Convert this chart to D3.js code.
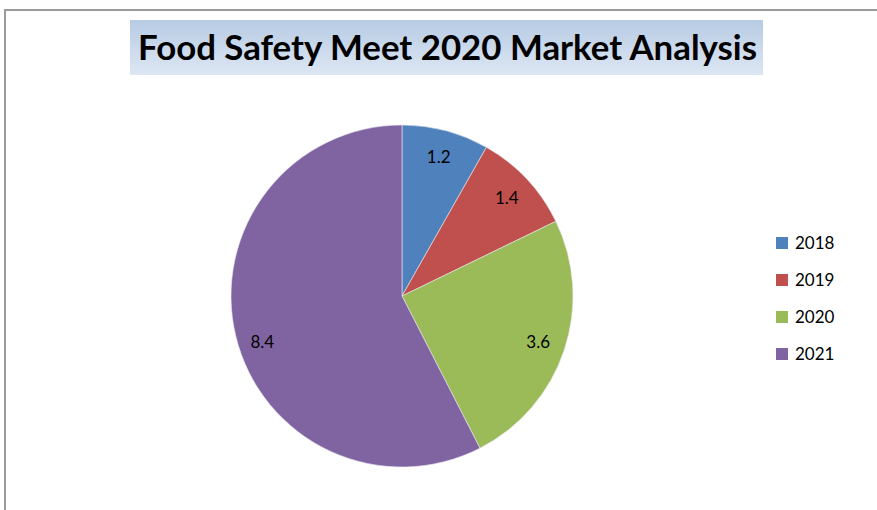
<!DOCTYPE html>
<html>
<head>
<meta charset="utf-8">
<script src="https://cdn.jsdelivr.net/npm/d3@7"></script>
<style>
body{margin:0;background:#fff;}
text{font-family:Lato,"Open Sans",sans-serif;}
</style>
</head>
<body>
<svg class="chart" width="877" height="510"></svg>
<script>
var years = ["2018","2019","2020","2021"];
var values = [1.2, 1.4, 3.6, 8.4];
var colors = ["#4f81bd","#c0504d","#9bbb59","#8064a2"];
var title = "Food Safety Meet 2020 Market Analysis";

var svg = d3.select(".chart");

// frame (left and top only, right is off page)
svg.append("path")
	.attr("d","M5,510 L5,10 L877,10")
	.attr("fill","none")
	.attr("stroke","#9a9a9a")
	.attr("stroke-width",2);

// title box with soft gradient
var grad = svg.append("defs").append("linearGradient")
	.attr("id","tg").attr("x1",0).attr("y1",0).attr("x2",0).attr("y2",1);
grad.append("stop").attr("offset","0%").attr("stop-color","#b7cbe4");
grad.append("stop").attr("offset","100%").attr("stop-color","#dde7f3");

svg.append("rect")
	.attr("x",130).attr("y",20)
	.attr("width",633).attr("height",55)
	.attr("fill","url(#tg)");

svg.append("text")
	.attr("x",138).attr("y",60)
	.attr("font-weight","bold")
	.attr("font-size",34)
	.attr("textLength",619)
	.attr("lengthAdjust","spacingAndGlyphs")
	.attr("fill","#000")
	.text(title);

var cx = 402, cy = 296, R = 171;

var pie = d3.pie().sort(null).value(function(d){return d;});
var arc = d3.arc().innerRadius(0).outerRadius(R);
var labelArc = d3.arc().innerRadius(R*0.84).outerRadius(R*0.84);

var g = svg.append("g").attr("transform","translate("+cx+","+cy+")");

var slices = pie(values);

g.selectAll(".slice")
	.data(slices)
	.enter()
	.append("path")
	.attr("class","slice")
	.attr("d",arc)
	.attr("fill",function(d,i){return colors[i];})
	.attr("stroke","#e8e8f0")
	.attr("stroke-width",0.6);

g.selectAll(".lbl")
	.data(slices)
	.enter()
	.append("text")
	.attr("class","lbl")
	.attr("x",function(d){return labelArc.centroid(d)[0];})
	.attr("y",function(d){
		var y = labelArc.centroid(d)[1];
		// big slice label sits a bit lower in the original
		if(d.index==3){y+=12;}
		return y;})
	.attr("dy","0.35em")
	.attr("text-anchor","middle")
	.attr("font-size",17)
	.attr("fill","#000")
	.text(function(d){return d.data;});

// legend
var leg = svg.append("g").attr("transform","translate(776,237)");
var row = leg.selectAll(".item")
	.data(years)
	.enter()
	.append("g")
	.attr("class","item")
	.attr("transform",function(d,i){return "translate(0,"+(i*37)+")";});

row.append("rect")
	.attr("width",12).attr("height",12)
	.attr("fill",function(d,i){return colors[i];});

row.append("text")
	.attr("x",19).attr("y",6)
	.attr("dy","0.35em")
	.attr("font-size",17)
	.attr("fill","#000")
	.text(function(d){return d;});
</script>
</body>
</html>
